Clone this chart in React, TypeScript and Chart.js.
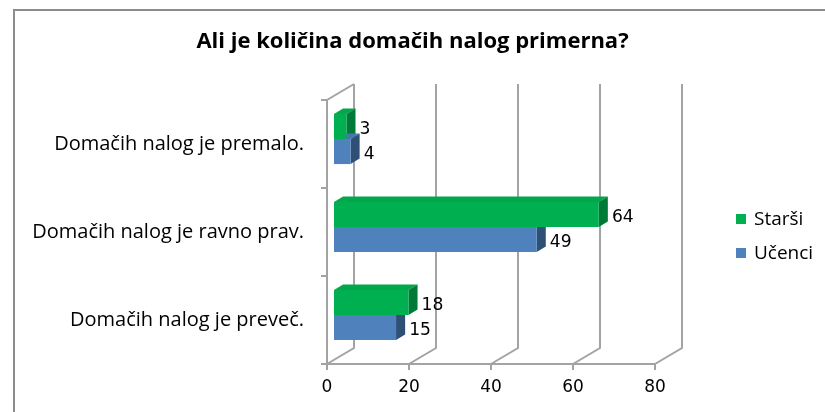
import React, { useEffect, useRef } from 'react';
import { Chart, registerables } from 'chart.js';

Chart.register(...registerables);

// ---- data ----
const categories = ['Domačih nalog je premalo.', 'Domačih nalog je ravno prav.', 'Domačih nalog je preveč.'];
const seriesNames = ['Starši', 'Učenci'];
const starsiValues = [3, 64, 18];
const ucenciValues = [4, 49, 15];
const xTicks = [0, 20, 40, 60, 80];
const titleText = 'Ali je količina domačih nalog primerna?';

// ---- styles ----
const frontColors = ['#00B050', '#4F81BD'];
const topColors = ['#00A84B', '#4676B0'];
const sideColors = ['#007A37', '#2E5077'];
const GRID = '#a3a3a3';
const FRAME = '#8c8c8c';
const CAT_FONT = 'Open Sans';
const NUM_FONT = 'DejaVu Sans';

const WALL_DX = 27;
const WALL_DY = -16;
const BAR_DX = 9;
const BAR_DY = -5.5;
const BAR_SHIFT_X = 7;
const BAR_SHIFT_Y = -5;
const BAR_SCALE_X = 1.009;

function barProps(el: any) {
  return el.getProps(['x', 'y', 'base', 'height'], true);
}

const threeD = {
  id: 'threeD',
  beforeDraw(chart: any) {
    const { ctx, width, height } = chart;
    ctx.save();
    ctx.fillStyle = '#ffffff';
    ctx.fillRect(0, 0, width, height);
    ctx.strokeStyle = FRAME;
    ctx.lineWidth = 2;
    ctx.strokeRect(14, 10, width + 40, height + 40);
    ctx.restore();
  },
  beforeDatasetsDraw(chart: any) {
    const { ctx, chartArea: a, scales } = chart;
    const xs = scales.x;
    const ys = scales.y;
    ctx.save();
    ctx.strokeStyle = GRID;
    ctx.lineWidth = 2;
    ctx.beginPath();
    xTicks.forEach((v) => {
      const px = xs.getPixelForValue(v);
      ctx.moveTo(px + WALL_DX, a.top + WALL_DY);
      ctx.lineTo(px + WALL_DX, a.bottom + WALL_DY);
      ctx.lineTo(px, a.bottom);
      ctx.lineTo(px, a.bottom + 6);
    });
    ctx.moveTo(a.left, a.bottom);
    ctx.lineTo(xs.getPixelForValue(xTicks[xTicks.length - 1]), a.bottom);
    ctx.moveTo(a.left, a.bottom);
    ctx.lineTo(a.left, a.top);
    ctx.lineTo(a.left + WALL_DX, a.top + WALL_DY);
    for (let i = 0; i <= categories.length; i++) {
      const py = ys.getPixelForValue(i - 0.5);
      ctx.moveTo(a.left - 6, py);
      ctx.lineTo(a.left, py);
    }
    ctx.stroke();

    // bar transform (bars sit a bit behind the front plane)
    ctx.translate(a.left + BAR_SHIFT_X, BAR_SHIFT_Y);
    ctx.scale(BAR_SCALE_X, 1);
    ctx.translate(-a.left, 0);

    const metas = chart.getSortedVisibleDatasetMetas();
    for (let i = 0; i < categories.length; i++) {
      const bars = metas
        .map((m: any) => ({ el: m.data[i], idx: m.index }))
        .filter((b: any) => b.el)
        .map((b: any) => ({ p: barProps(b.el), idx: b.idx }));
      bars.sort((p: any, q: any) => p.p.x - q.p.x);
      bars.forEach((b: any) => {
        const { x, y, base, height } = b.p;
        const top = y - height / 2;
        const bot = y + height / 2;
        const x0 = Math.min(base, x);
        const x1 = Math.max(base, x);
        ctx.fillStyle = topColors[b.idx];
        ctx.beginPath();
        ctx.moveTo(x0, top);
        ctx.lineTo(x0 + BAR_DX, top + BAR_DY);
        ctx.lineTo(x1 + BAR_DX, top + BAR_DY);
        ctx.lineTo(x1, top);
        ctx.closePath();
        ctx.fill();
        ctx.fillStyle = sideColors[b.idx];
        ctx.beginPath();
        ctx.moveTo(x1, top);
        ctx.lineTo(x1 + BAR_DX, top + BAR_DY);
        ctx.lineTo(x1 + BAR_DX, bot + BAR_DY);
        ctx.lineTo(x1, bot);
        ctx.closePath();
        ctx.fill();
      });
    }
  },
  afterDatasetsDraw(chart: any) {
    const { ctx } = chart;
    ctx.fillStyle = '#000000';
    ctx.font = `17px "${NUM_FONT}"`;
    ctx.textAlign = 'left';
    ctx.textBaseline = 'alphabetic';
    chart.getSortedVisibleDatasetMetas().forEach((m: any) => {
      const data = chart.data.datasets[m.index].data;
      m.data.forEach((el: any, i: number) => {
        const { x, y } = barProps(el);
        ctx.fillText(String(data[i]), x + 13, y + 7.5);
      });
    });
    ctx.restore();
  },
  afterDraw(chart: any) {
    const { ctx } = chart;
    ctx.save();
    const legendX = 736;
    const legendY = [219, 253];
    chart.data.datasets.forEach((ds: any, i: number) => {
      ctx.fillStyle = ds.backgroundColor;
      ctx.fillRect(legendX, legendY[i] - 5, 10, 10);
      ctx.fillStyle = '#000000';
      ctx.font = `19px "${CAT_FONT}"`;
      ctx.textAlign = 'left';
      ctx.textBaseline = 'middle';
      ctx.fillText(ds.label, legendX + 18, legendY[i] + 1);
    });
    ctx.restore();
  },
};

export default function App() {
  const ref = useRef<HTMLCanvasElement | null>(null);
  useEffect(() => {
    if (!ref.current) return;
    const chart = new Chart(ref.current, {
      type: 'bar',
      data: {
        labels: categories,
        datasets: [
          { label: seriesNames[0], data: starsiValues, backgroundColor: frontColors[0], borderWidth: 0 },
          { label: seriesNames[1], data: ucenciValues, backgroundColor: frontColors[1], borderWidth: 0 },
        ],
      },
      options: {
        indexAxis: 'y',
        responsive: false,
        animation: false,
        events: [],
        categoryPercentage: 0.57,
        barPercentage: 1.0,
        clip: false,
        layout: { padding: 0 },
        plugins: {
          legend: { display: false },
          tooltip: { enabled: false },
          title: {
            display: true,
            text: titleText,
            color: '#000000',
            font: { family: CAT_FONT, size: 22, weight: 'bold', lineHeight: 1.2 },
            padding: { top: 28.5, bottom: 45.1 },
          },
        },
        scales: {
          x: {
            type: 'linear',
            min: 0,
            max: 80,
            position: 'bottom',
            ticks: { stepSize: 20, color: '#000000', font: { family: NUM_FONT, size: 17 }, padding: 13 },
            grid: { display: false, drawTicks: false },
            border: { display: false },
            afterFit: (s: any) => { s.height = 48; },
          },
          y: {
            type: 'category',
            position: 'left',
            ticks: { color: '#000000', font: { family: CAT_FONT, size: 20 }, padding: 23 },
            grid: { display: false, drawTicks: false },
            border: { display: false },
            afterFit: (s: any) => { s.width = 327; },
          },
          yR: {
            type: 'category',
            position: 'right',
            labels: [''],
            ticks: { display: false },
            grid: { display: false, drawTicks: false },
            border: { display: false },
            afterFit: (s: any) => { s.width = 170; },
          },
        },
      } as any,
      plugins: [threeD],
    });
    return () => chart.destroy();
  }, []);
  return (
    <div style={{ position: 'fixed', left: 0, top: 0, width: 825, height: 412, background: '#fff' }}>
      <canvas ref={ref} width={825} height={412} style={{ display: 'block', width: 825, height: 412 }} />
    </div>
  );
}
